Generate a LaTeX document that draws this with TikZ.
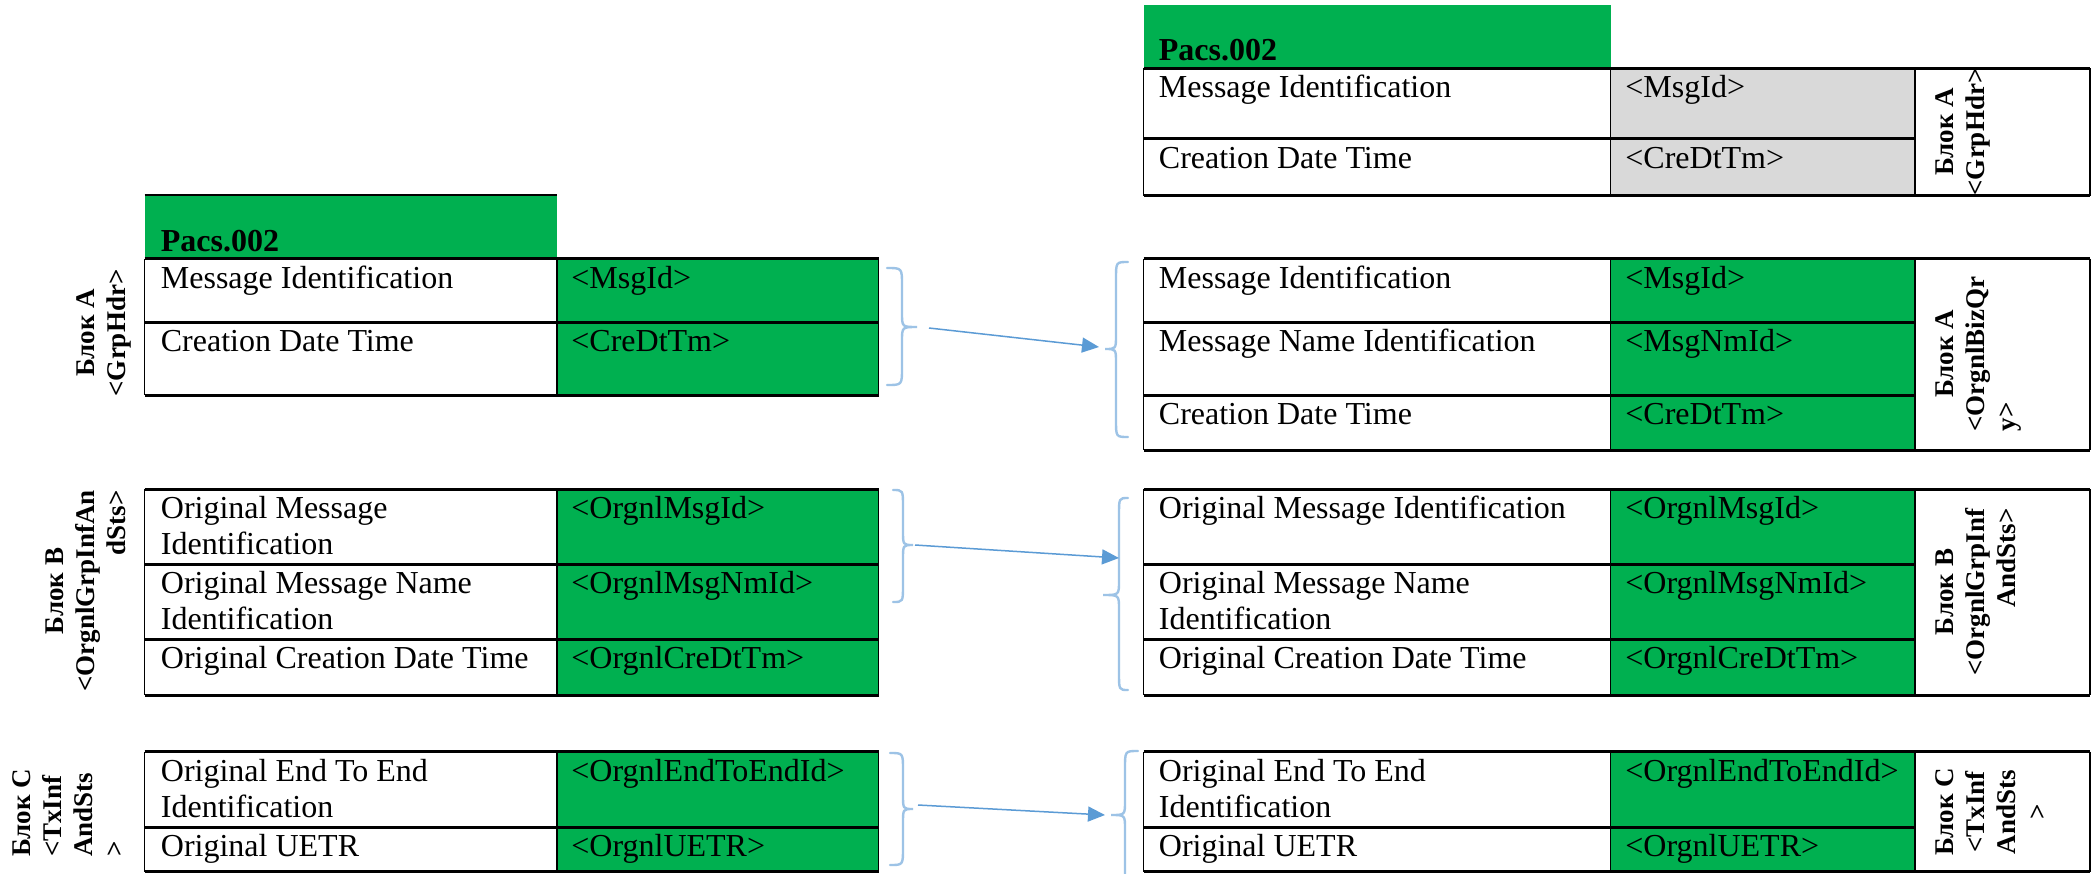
\documentclass[tikz,border=0pt]{standalone}
\usepackage{fontspec}
\setmainfont{Liberation Serif}
\usetikzlibrary{arrows.meta}
\definecolor{tgreen}{HTML}{00B050}
\definecolor{tgray}{HTML}{D9D9D9}
\definecolor{braceblue}{HTML}{9DC3E6}
\definecolor{arrowblue}{HTML}{5B9BD5}
\newcommand{\cellfnt}{\fontsize{16}{18}\selectfont}
\newcommand{\lblfnt}{\fontsize{13.5}{15.5}\selectfont\bfseries}
\newcommand{\celltxt}[1]{\begin{tabular}{@{}l@{}}#1\end{tabular}}
\newcommand{\lbltab}[2]{\begin{tabular}{@{}#1@{}}#2\end{tabular}}
\newcommand{\mybrace}[6]{\draw[brace] (#1,#4) .. controls (#2,#4) and (#2,#4) .. (#2,#4+17) -- (#2,#5-14) .. controls (#2,#5) and (#2,#5) .. (#3,#5) .. controls (#2,#5) and (#2,#5) .. (#2,#5+14) -- (#2,#6-17) .. controls (#2,#6) and (#2,#6) .. (#1,#6);}
\tikzset{
  hline/.style={line width=1.5pt, black},
  vline/.style={line width=0.8pt, black},
  cell/.style={anchor=north west, inner sep=0pt, font=\cellfnt},
  hdr/.style={anchor=base west, inner sep=0pt, font=\cellfnt\bfseries},
  lbl/.style={rotate=90, anchor=north, inner sep=0pt, font=\lblfnt},
  brace/.style={draw=braceblue, line width=1.2pt, line cap=round},
  link/.style={draw=arrowblue, line width=0.75pt, -{Triangle[length=8.5pt,width=7.5pt]}}
}
\begin{document}
\begin{tikzpicture}[x=0.5pt,y=-0.5pt]
\clip (0,0) rectangle (2098,873);
\fill[white] (0,0) rectangle (2098,873);

% ---------- top right table (Pacs.002, GrpHdr) ----------
\fill[tgreen] (1143.5,5) rectangle (1610.5,68);
\fill[tgray] (1610.5,68) rectangle (1915,195.5);
\draw[hline] (1143.5,68) -- (2090,68);
\draw[hline] (1143.5,138.5) -- (1915,138.5);
\draw[hline] (1143.5,195.5) -- (2090,195.5);
\foreach \x in {1143.5,1610.5,1915,2090} \draw[vline] (\x,68) -- (\x,195.5);
\node[hdr] (hR) at (1158.5,60) {Pacs.002};
\node[cell] (t11) at (1158.5,72) {\celltxt{Message Identification}};
\node[cell] (t12) at (1625,72) {\celltxt{<MsgId>}};
\node[cell] (t21) at (1158.5,142.5) {\celltxt{Creation Date Time}};
\node[cell] (t22) at (1625,142.5) {\celltxt{<CreDtTm>}};
\node[lbl] (tL) at (1931,132) {\lbltab{c}{Блок A\\<GrpHdr>}};

% ---------- left table A ----------
\fill[tgreen] (144.5,195) rectangle (556.7,258.5);
\fill[tgreen] (556.7,258.5) rectangle (878.5,395);
\draw[line width=1pt] (144.5,195) -- (556.7,195);
\draw[hline] (144.5,258.5) -- (878.5,258.5);
\draw[hline] (144.5,322) -- (878.5,322);
\draw[hline] (144.5,395) -- (878.5,395);
\foreach \x in {144.5,556.7,878.5} \draw[vline] (\x,258.5) -- (\x,395);
\node[hdr] (hL) at (160.5,251) {Pacs.002};
\node[cell] (la11) at (160.5,262.5) {\celltxt{Message Identification}};
\node[cell] (la12) at (571,262.5) {\celltxt{<MsgId>}};
\node[cell] (la21) at (160.5,326) {\celltxt{Creation Date Time}};
\node[cell] (la22) at (571,326) {\celltxt{<CreDtTm>}};
\node[lbl] (laL) at (72,333) {\lbltab{c}{Блок A\\<GrpHdr>}};

% ---------- right table A ----------
\fill[tgreen] (1610.5,258.5) rectangle (1915,450);
\draw[hline] (1143.5,258.5) -- (2090,258.5);
\draw[hline] (1143.5,322) -- (1915,322);
\draw[hline] (1143.5,395) -- (1915,395);
\draw[hline] (1143.5,450) -- (2090,450);
\foreach \x in {1143.5,1610.5,1915,2090} \draw[vline] (\x,258.5) -- (\x,450);
\node[cell] (ra11) at (1158.5,262.5) {\celltxt{Message Identification}};
\node[cell] (ra12) at (1625,262.5) {\celltxt{<MsgId>}};
\node[cell] (ra21) at (1158.5,326) {\celltxt{Message Name Identification}};
\node[cell] (ra22) at (1625,326) {\celltxt{<MsgNmId>}};
\node[cell] (ra31) at (1158.5,399) {\celltxt{Creation Date Time}};
\node[cell] (ra32) at (1625,399) {\celltxt{<CreDtTm>}};
\node[lbl] (raL) at (1931,354) {\lbltab{l}{\multicolumn{1}{@{}c@{}}{Блок A}\\<OrgnlBizQr\\y>}};

% ---------- left table B ----------
\fill[tgreen] (556.7,489) rectangle (878.5,695);
\foreach \y in {489,564,639,695} \draw[hline] (144.5,\y) -- (878.5,\y);
\foreach \x in {144.5,556.7,878.5} \draw[vline] (\x,489) -- (\x,695);
\node[cell] (lb11) at (160.5,493) {\celltxt{Original Message\\Identification}};
\node[cell] (lb12) at (571,493) {\celltxt{<OrgnlMsgId>}};
\node[cell] (lb21) at (160.5,568) {\celltxt{Original Message Name\\Identification}};
\node[cell] (lb22) at (571,568) {\celltxt{<OrgnlMsgNmId>}};
\node[cell] (lb31) at (160.5,643) {\celltxt{Original Creation Date Time}};
\node[cell] (lb32) at (571,643) {\celltxt{<OrgnlCreDtTm>}};
\node[lbl] (lbL) at (41,591) {\lbltab{r}{\multicolumn{1}{@{}c@{}}{Блок B}\\<OrgnlGrpInfAn\\dSts>}};

% ---------- right table B ----------
\fill[tgreen] (1610.5,489) rectangle (1915,695);
\draw[hline] (1143.5,489) -- (2090,489);
\draw[hline] (1143.5,564) -- (1915,564);
\draw[hline] (1143.5,639) -- (1915,639);
\draw[hline] (1143.5,695) -- (2090,695);
\foreach \x in {1143.5,1610.5,1915,2090} \draw[vline] (\x,489) -- (\x,695);
\node[cell] (rb11) at (1158.5,493) {\celltxt{Original Message Identification}};
\node[cell] (rb12) at (1625,493) {\celltxt{<OrgnlMsgId>}};
\node[cell] (rb21) at (1158.5,568) {\celltxt{Original Message Name\\Identification}};
\node[cell] (rb22) at (1625,568) {\celltxt{<OrgnlMsgNmId>}};
\node[cell] (rb31) at (1158.5,643) {\celltxt{Original Creation Date Time}};
\node[cell] (rb32) at (1625,643) {\celltxt{<OrgnlCreDtTm>}};
\node[lbl] (rbL) at (1931,592) {\lbltab{r}{\multicolumn{1}{@{}c@{}}{Блок B}\\<OrgnlGrpInf\\AndSts>}};

% ---------- left table C ----------
\fill[tgreen] (556.7,751.5) rectangle (878.5,871.5);
\foreach \y in {751.5,827,871.5} \draw[hline] (144.5,\y) -- (878.5,\y);
\foreach \x in {144.5,556.7,878.5} \draw[vline] (\x,751.5) -- (\x,871.5);
\node[cell] (lc11) at (160.5,755.5) {\celltxt{Original End To End\\Identification}};
\node[cell] (lc12) at (571,755.5) {\celltxt{<OrgnlEndToEndId>}};
\node[cell] (lc21) at (160.5,831) {\celltxt{Original UETR}};
\node[cell] (lc22) at (571,831) {\celltxt{<OrgnlUETR>}};
\node[lbl] (lcL) at (8,813) {\lbltab{l}{Блок C\\<TxInf\\AndSts\\>}};

% ---------- right table C ----------
\fill[tgreen] (1610.5,751.5) rectangle (1915,871.5);
\draw[hline] (1143.5,751.5) -- (2090,751.5);
\draw[hline] (1143.5,827) -- (1915,827);
\draw[hline] (1143.5,871.5) -- (2090,871.5);
\foreach \x in {1143.5,1610.5,1915,2090} \draw[vline] (\x,751.5) -- (\x,871.5);
\node[cell] (rc11) at (1158.5,755.5) {\celltxt{Original End To End\\Identification}};
\node[cell] (rc12) at (1625,755.5) {\celltxt{<OrgnlEndToEndId>}};
\node[cell] (rc21) at (1158.5,831) {\celltxt{Original UETR}};
\node[cell] (rc22) at (1625,831) {\celltxt{<OrgnlUETR>}};
\node[lbl] (rcL) at (1931,812) {\lbltab{c}{Блок C\\<TxInf\\AndSts\\>}};

% ---------- braces ----------
\mybrace{887}{902}{917}{268}{327}{385}
\mybrace{1128}{1116}{1105}{262}{349}{437}
\mybrace{893}{903}{913}{490}{545}{602}
\mybrace{1128}{1119}{1103}{498}{595}{690}
\mybrace{890}{903}{913}{753}{809}{865}
\mybrace{1138}{1125}{1111}{751}{815}{893}

% ---------- arrows ----------
\coordinate (aS) at (929,328);
\coordinate (aE) at (1099,347);
\coordinate (bS) at (915,545);
\coordinate (bE) at (1119,558);
\coordinate (cS) at (918,805);
\coordinate (cE) at (1105,815);
\draw[link] (aS) -- (aE);
\draw[link] (bS) -- (bE);
\draw[link] (cS) -- (cE);
\end{tikzpicture}
\end{document}
